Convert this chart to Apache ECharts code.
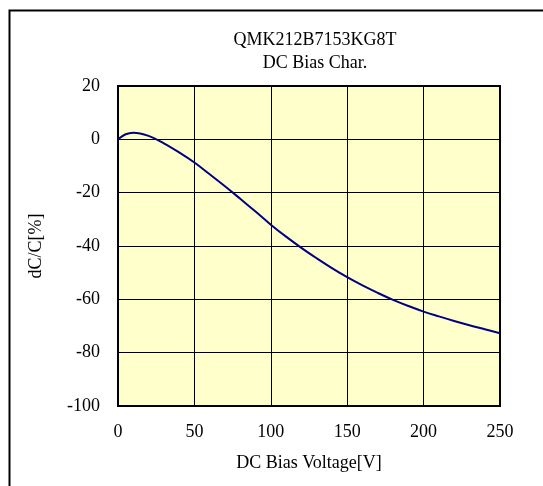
<!DOCTYPE html>
<html>
<head>
<meta charset="utf-8">
<script src="https://cdn.jsdelivr.net/npm/echarts@6/dist/echarts.min.js"></script>
<style>html,body{margin:0;padding:0;background:#fff;}#c{width:543px;height:486px;}</style>
</head>
<body>
<div id="c"></div>
<script>
var titleLines = ['QMK212B7153KG8T', 'DC Bias Char.'];
var xName = 'DC Bias Voltage[V]';
var yName = 'dC/C[%]';
var voltage = [0, 5, 10, 20, 30, 40, 50, 60, 70, 80, 90, 100, 110, 120, 130, 140, 150, 160, 170, 180, 190, 200, 210, 220, 230, 240, 250];
var dcc = [0, 1.9, 2.5, 1.3, -1.5, -4.9, -8.7, -13.1, -17.6, -22.3, -27.1, -32.0, -36.5, -40.7, -44.6, -48.3, -51.7, -54.8, -57.6, -60.2, -62.5, -64.6, -66.4, -68.1, -69.7, -71.2, -72.7];

var font = '"Liberation Serif", "Times New Roman", serif';
var chart = echarts.init(document.getElementById('c'));
chart.setOption({
  animation: false,
  backgroundColor: '#ffffff',
  title: {
    text: titleLines.join('\n'),
    left: 310, top: 24, textAlign: 'center',
    textStyle: { fontFamily: font, fontSize: 18, fontWeight: 'normal', color: '#000', lineHeight: 23 }
  },
  graphic: [{
    type: 'rect', left: 7, top: 8, z: -1,
    shape: { width: 600, height: 600 },
    style: { fill: 'none', stroke: '#000', lineWidth: 2 }
  }],
  grid: { left: 118, top: 86, width: 382, height: 320, show: true, backgroundColor: '#FFFFCC', borderColor: '#000', borderWidth: 2 },
  xAxis: {
    type: 'value', min: 0, max: 250, interval: 50,
    name: xName, nameLocation: 'middle', nameGap: 48,
    nameTextStyle: { fontFamily: font, fontSize: 18, color: '#000' },
    axisLine: { show: false }, axisTick: { show: false },
    axisLabel: { fontFamily: font, fontSize: 18, color: '#000', margin: 17 },
    splitLine: { show: true, lineStyle: { color: '#000', width: 1 } }
  },
  yAxis: {
    type: 'value', min: -100, max: 20, interval: 20,
    name: yName, nameLocation: 'middle', nameGap: 73,
    nameTextStyle: { fontFamily: font, fontSize: 18, color: '#000' },
    axisLine: { show: false }, axisTick: { show: false },
    axisLabel: { fontFamily: font, fontSize: 18, color: '#000', margin: 18 },
    splitLine: { show: true, lineStyle: { color: '#000', width: 1 } }
  },
  series: [{
    type: 'line', data: voltage.map(function (v, i) { return [v, dcc[i]]; }),
    smooth: 0.4, showSymbol: false,
    lineStyle: { color: '#000080', width: 2 }
  }]
});
</script>
</body>
</html>
